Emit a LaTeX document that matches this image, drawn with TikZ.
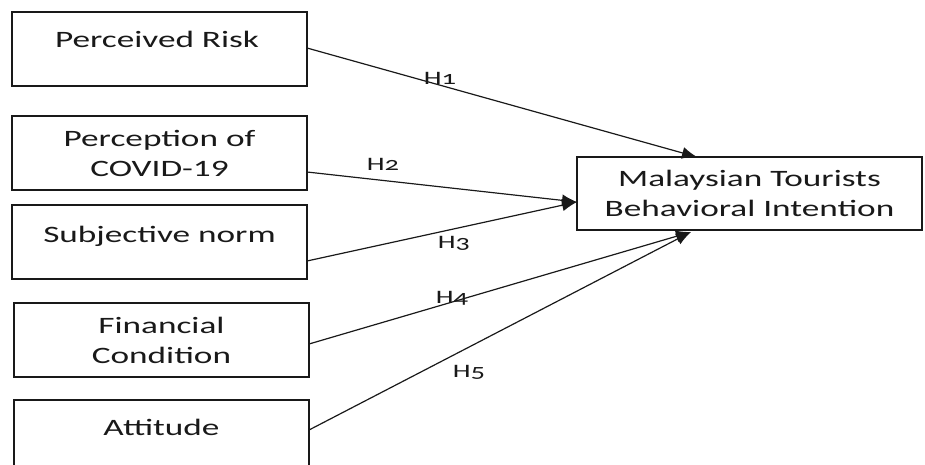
\documentclass[tikz,border=0pt]{standalone}
\usepackage{fontspec}
\setmainfont{Carlito}[FakeStretch=1.5]
\newfontfamily\hfont{Carlito}[FakeStretch=1.5,Numbers=OldStyle]
\usetikzlibrary{arrows.meta}
\begin{document}
\begin{tikzpicture}[x=1pt,y=-1pt,
  box/.style={draw=black!90,line width=1.3pt,rectangle,inner sep=0pt,
    minimum width=295pt,minimum height=74pt,align=center,
    font=\fontsize{23.5}{30}\selectfont,text=black!90},
  boxtxt/.style={anchor=base,inner sep=0pt,font=\fontsize{23.5}{30}\selectfont,text=black!90},
  arr/.style={draw=black!90,line width=1.2pt,-{Latex[length=15pt,width=12pt]}},
  hyp/.style={anchor=base,inner sep=0pt,font=\hfont\fontsize{19}{22}\selectfont,text=black!90}]
\useasboundingbox (0,0) rectangle (925,465);
\clip (0,0) rectangle (925,465);
% boxes
\node[box] (b1) at (159.5,49) {};
\node[box] (b2) at (159.5,153) {Perception of\\COVID-19};
\node[box] (b3) at (159.5,242) {};
\node[box] (b4) at (161.5,340) {Financial\\Condition};
\node[box] (b5) at (161.5,437) {};
\node[box,minimum width=345pt,minimum height=73pt] (T) at (749.5,193.5) {Malaysian Tourists\\Behavioral Intention};
% single-line texts
\node[boxtxt] (t1) at (157,48) {Perceived Risk};
\node[boxtxt] (t3) at (159.5,242) {Subjective norm};
\node[boxtxt] (t5) at (161.5,435) {Attitude};
% connector end points
\coordinate (s1) at (307,48);
\coordinate (s2) at (307,172);
\coordinate (s3) at (307,261);
\coordinate (s4) at (309,344);
\coordinate (s5) at (309,430);
\coordinate (e1) at (697,157);
\coordinate (e2) at (577,202);
\coordinate (e4) at (691,232);
% arrows
\draw[arr] (s1) -- (e1);
\draw[arr] (s2) -- (e2);
\draw[arr] (s3) -- (e2);
\draw[arr] (s4) -- (e4);
\draw[arr] (s5) -- (e4);
% labels
\node[hyp] (h1) at (440,85) {H1};
\node[hyp] (h2) at (383,171) {H2};
\node[hyp] (h3) at (454,248) {H3};
\node[hyp] (h4) at (452,303) {H4};
\node[hyp] (h5) at (469,377) {H5};
\end{tikzpicture}
\end{document}
